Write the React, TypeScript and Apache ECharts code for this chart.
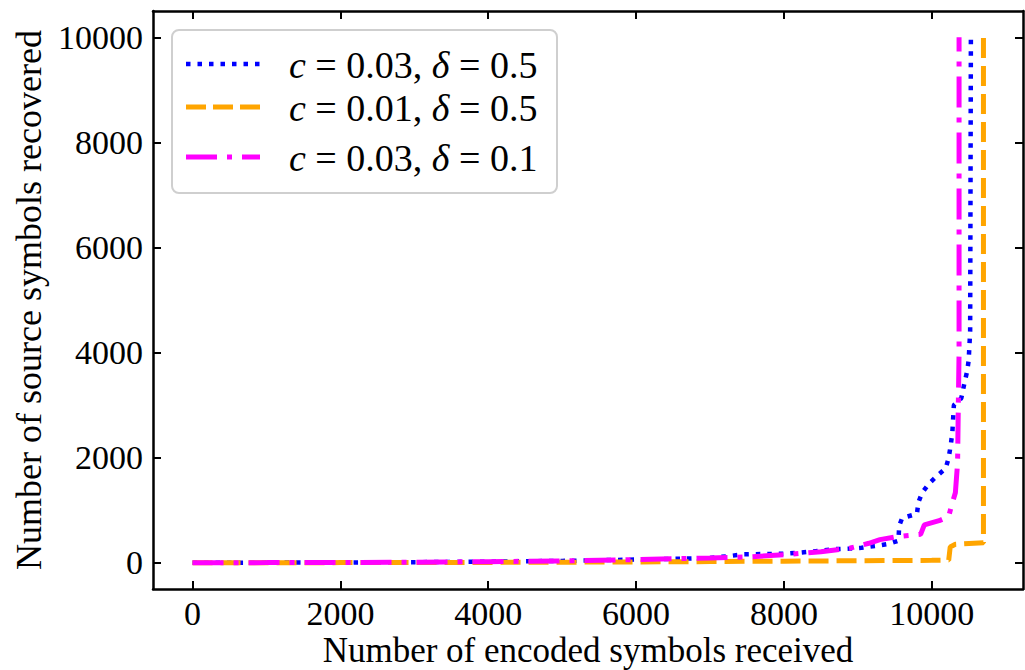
import React, { useEffect, useRef } from "react";
import * as echarts from "echarts";

const xTicks = [0, 2000, 4000, 6000, 8000, 10000];
const yTicks = [0, 2000, 4000, 6000, 8000, 10000];

const seriesNames = ["c = 0.03, δ = 0.5", "c = 0.01, δ = 0.5", "c = 0.03, δ = 0.1"];
const legendRich = ["{i|c} = 0.03, {i|δ} = 0.5", "{i|c} = 0.01, {i|δ} = 0.5", "{i|c} = 0.03, {i|δ} = 0.1"];

// c = 0.03, delta = 0.5 (blue, dotted)
const blueX = [0, 1000, 2000, 3000, 4000, 5000, 6000, 7000, 7280, 7450, 8000, 8200, 8500, 8700, 8900, 9050, 9250, 9420, 9550, 9560, 9600, 9800, 9820, 9870, 9960, 10070, 10190, 10230, 10260, 10280, 10300, 10400, 10440, 10480, 10500, 10520, 10530];
const blueY = [0, 2, 5, 10, 20, 35, 60, 90, 130, 160, 170, 190, 230, 260, 270, 285, 320, 360, 420, 700, 850, 930, 1150, 1330, 1500, 1650, 1800, 2000, 2260, 2500, 3000, 3130, 3400, 3650, 3850, 4400, 10000];

// c = 0.01, delta = 0.5 (orange, dashed)
const orangeX = [0, 2000, 4000, 6000, 7000, 8000, 9000, 10000, 10230, 10250, 10320, 10700, 10700];
const orangeY = [0, 2, 6, 15, 22, 30, 38, 45, 50, 300, 350, 380, 10000];

// c = 0.03, delta = 0.1 (magenta, dash-dot)
const magentaX = [0, 1000, 2000, 3000, 4000, 5000, 6000, 7000, 7500, 8000, 8500, 8900, 9150, 9300, 9500, 9850, 9900, 10100, 10230, 10270, 10320, 10350, 10360, 10370, 10370];
const magentaY = [0, 2, 5, 10, 20, 35, 60, 90, 110, 150, 210, 280, 370, 440, 490, 540, 720, 800, 880, 1100, 1330, 1900, 3000, 4000, 10000];

const zip = (xs: number[], ys: number[]) => xs.map((x, i) => [x, ys[i]]);

const FONT = "'Liberation Serif', 'Times New Roman', serif";

export default function App() {
  const ref = useRef<HTMLDivElement>(null);
  useEffect(() => {
    if (!ref.current) return;
    const chart = echarts.init(ref.current, undefined, { renderer: "svg" });
    const tickStyle = { show: true, inside: true, length: 8, lineStyle: { color: "#000", width: 2 } };
    const lineStyleAxis = { show: true, onZero: false, lineStyle: { color: "#000", width: 2.5 } };
    const fmt = (v: number) => String(v);
    const option: any = {
      animation: false,
      backgroundColor: "#fff",
      grid: { left: 153, right: 2, top: 11, bottom: 81, containLabel: false, outerBoundsMode: "none" },
      xAxis: [
        {
          type: "value",
          min: -535,
          max: 11235,
          position: "bottom",
          axisLine: lineStyleAxis,
          axisTick: { ...tickStyle, customValues: xTicks },
          axisLabel: { customValues: xTicks, formatter: fmt, fontFamily: FONT, fontSize: 34, color: "#000", margin: 7 },
          splitLine: { show: false },
          name: "Number of encoded symbols received",
          nameLocation: "middle",
          nameMoveOverlap: false,
          nameGap: 44,
          nameTextStyle: { fontFamily: FONT, fontSize: 35, color: "#000", lineHeight: 35 },
        },
        {
          type: "value",
          min: -535,
          max: 11235,
          position: "top",
          axisLine: lineStyleAxis,
          axisTick: { ...tickStyle, customValues: xTicks },
          axisLabel: { show: false },
          splitLine: { show: false },
        },
      ],
      yAxis: [
        {
          type: "value",
          min: -500,
          max: 10500,
          position: "left",
          axisLine: lineStyleAxis,
          axisTick: { ...tickStyle, customValues: yTicks },
          axisLabel: { customValues: yTicks, formatter: fmt, fontFamily: FONT, fontSize: 34, color: "#000", margin: 10 },
          splitLine: { show: false },
          name: "Number of source symbols recovered",
          nameLocation: "middle",
          nameMoveOverlap: false,
          nameGap: 106,
          nameTextStyle: { fontFamily: FONT, fontSize: 36, color: "#000" },
        },
        {
          type: "value",
          min: -500,
          max: 10500,
          position: "right",
          axisLine: lineStyleAxis,
          axisTick: { ...tickStyle, customValues: yTicks },
          axisLabel: { show: false },
          splitLine: { show: false },
        },
      ],
      series: [
        {
          name: seriesNames[0],
          type: "line",
          data: zip(blueX, blueY),
          showSymbol: false,
          z: 2,
          lineStyle: { color: "#0000ff", width: 4.5, type: [4.5, 7], cap: "butt" },
        },
        {
          name: seriesNames[1],
          type: "line",
          data: zip(orangeX, orangeY),
          showSymbol: false,
          z: 3,
          lineStyle: { color: "#ffa500", width: 5, type: [20, 8], cap: "butt" },
        },
        {
          name: seriesNames[2],
          type: "line",
          data: zip(magentaX, magentaY),
          showSymbol: false,
          z: 4,
          lineStyle: { color: "#ff00ff", width: 5, type: [31, 10, 5, 10], cap: "butt" },
        },
      ],
      graphic: [
        {
          type: "group",
          z: 100,
          children: [
            {
              type: "rect",
              shape: { x: 172, y: 30, width: 385, height: 163, r: 7 },
              style: { fill: "rgba(255,255,255,0.85)", stroke: "#cfcfcf", lineWidth: 2 },
            },
            {
              type: "line",
              shape: { x1: 186, y1: 64, x2: 260, y2: 64 },
              style: { stroke: "#0000ff", lineWidth: 4.5, lineDash: [4.5, 7] },
            },
            {
              type: "line",
              shape: { x1: 186, y1: 107, x2: 260, y2: 107 },
              style: { stroke: "#ffa500", lineWidth: 5, lineDash: [20, 7] },
            },
            {
              type: "line",
              shape: { x1: 186, y1: 157, x2: 260, y2: 157 },
              style: { stroke: "#ff00ff", lineWidth: 5, lineDash: [31, 10, 5, 10] },
            },
            ...[64, 107, 157].map((y, i) => ({
              type: "text",
              style: {
                x: 289,
                y: y + 1,
                text: legendRich[i],
                verticalAlign: "middle",
                fontFamily: FONT,
                fontSize: 38,
                fill: "#000",
                rich: { i: { fontStyle: "italic", fontFamily: FONT, fontSize: 38 } },
              },
            })),
          ],
        },
      ],
    };
    chart.setOption(option);
    return () => chart.dispose();
  }, []);
  return <div ref={ref} style={{ position: "fixed", left: 0, top: 0, width: 1025, height: 670 }} />;
}
